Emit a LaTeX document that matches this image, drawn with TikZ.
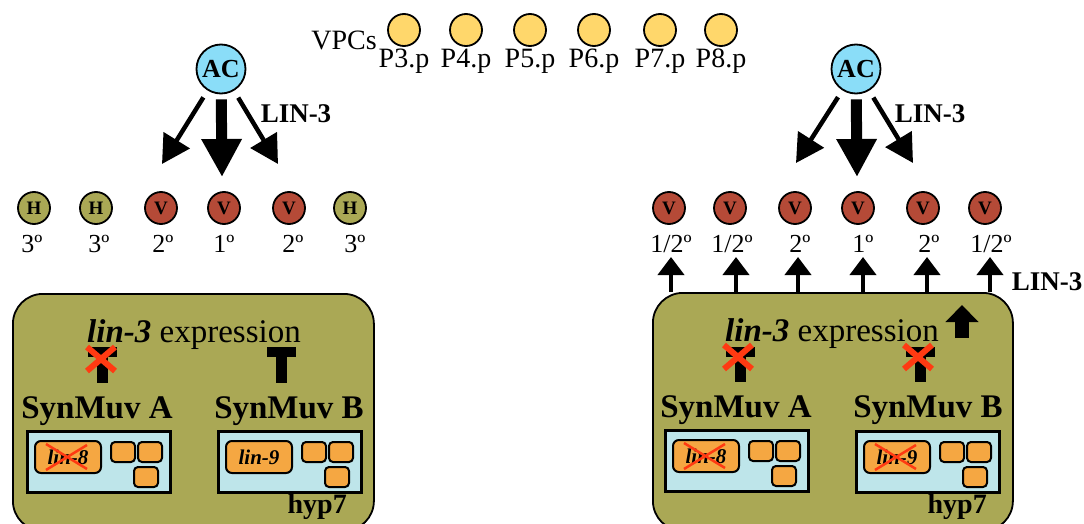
\documentclass[tikz,border=0pt]{standalone}
\usepackage{fontspec}
\setmainfont{Liberation Serif}
\usepackage{tikz}
\usetikzlibrary{positioning, arrows.meta, calc}
\definecolor{cOlive}  {HTML}{AAA855}
\definecolor{cIce}    {HTML}{BEE5EA}
\definecolor{cGene}   {HTML}{F5A742}
\definecolor{cVpc}    {HTML}{FFD76B}
\definecolor{cAnchor} {HTML}{8ADDF8}
\definecolor{cVulval} {HTML}{B54A37}
\definecolor{cKnock}  {HTML}{FF3A12}
\newcommand\setfs[1]{\fontsize{#1}{#1}\selectfont}

\begin{document}
\begin{tikzpicture}[x=1pt, y=-1pt,
    vpc/.style={circle, draw, line width=1.8pt, fill=cVpc, minimum size=32pt, inner sep=0pt},
    cell/.style={circle, draw, line width=1.8pt, minimum size=32pt, inner sep=0pt, font=\setfs{19}\bfseries},
    anchorcell/.style={circle, draw, line width=1.8pt, fill=cAnchor, minimum size=49pt, inner sep=0pt, font=\setfs{26}\bfseries},
    txt/.style={anchor=base, inner sep=0pt, font=\setfs{28}},
    fate/.style={anchor=base, inner sep=0pt, font=\setfs{26}},
    signal/.style={anchor=base, inner sep=0pt, font=\setfs{27}\bfseries},
    synmuv/.style={anchor=base, inner sep=0pt, font=\setfs{33}\bfseries},
    bigbox/.style={draw, line width=1.8pt, fill=cOlive, rounded corners=30pt, anchor=north west, inner sep=0pt},
    mutbox/.style={draw, line width=3pt, fill=cIce, anchor=north west, minimum width=143pt, minimum height=61pt, inner sep=0pt},
    gene/.style={draw, line width=2pt, fill=cGene, rounded corners=6pt, minimum width=66pt, minimum height=32pt, inner sep=0pt, font=\setfs{21}\bfseries\itshape},
    subunit/.style={draw, line width=2pt, fill=cGene, rounded corners=4pt},
    fatarr/.style={line width=11pt, -{Triangle[length=38pt, width=38pt]}},
    thinarr/.style={line width=4.5pt, -{Triangle[length=28pt, width=30pt]}},
    uparr/.style={line width=4pt, -{Triangle[length=18pt, width=26pt]}},
    inhib/.style={line width=11pt, -{Rectangle[length=10pt, width=29pt]}},
    knock/.style={draw=cKnock, line width=6pt},
    knockthin/.style={draw=cKnock, line width=2.5pt},
  ]
  \useasboundingbox (0,0) rectangle (1084,524);

  % precursor cells
  \node[txt, anchor=base east] (vpcs) at (377,50) {VPCs};
  \foreach \x [count=\i from 3] in {404,466,530,594,660,721}{
    \node[vpc] (P\i) at (\x,30) {};
    \node[txt] (lab\i) at (\x,68) {P\i.p};
  }

  % wild type
  \node[anchorcell] (acL) at (221,69) {AC};
  \foreach \x/\t/\c/\f/\lx [count=\i] in {34/H/cOlive/3º/32, 96/H/cOlive/3º/99, 161/V/cVulval/2º/163,
      224/V/cVulval/1º/224, 289/V/cVulval/2º/293, 350/H/cOlive/3º/355}{
    \node[cell, fill=\c] (wt\i) at (\x,208) {\t};
    \node[fate] (wtf\i) at (\lx,252) {\f};
  }
  \coordinate (tipLl) at (162,164);
  \coordinate (tipLc) at (222,177);
  \coordinate (tipLr) at (278,164);
  \draw[thinarr, shorten <=8pt] (acL) -- (tipLl);
  \draw[fatarr, shorten <=5pt] (acL) -- (tipLc);
  \draw[thinarr, shorten <=8pt] (acL) -- (tipLr);
  \node[signal] (lin3L) at (296,123) {LIN-3};

  \node[bigbox, minimum width=361pt, minimum height=237pt] (boxL) at (12,293) {};
  \node[txt, font=\setfs{33}] (exprL) at (194,342) {\textbf{\textit{lin-3}} expression};
  \node[synmuv] (synAL) at (97,418) {SynMuv A};
  \node[synmuv] (synBL) at (289,418) {SynMuv B};
  \node[anchor=base east, inner sep=0pt, font=\setfs{28}\bfseries] (hypL) at (347,513) {hyp7};
  \coordinate (tAL) at (102,347);
  \coordinate (tBL) at (281,347);
  \draw[inhib, shorten <=13pt] (tAL |- synAL.north) -- (tAL);
  \draw[inhib, shorten <=13pt] (tBL |- synBL.north) -- (tBL);

  % hyp-7 mutant
  \node[anchorcell] (acR) at (856,69) {AC};
  \foreach \x/\f/\lx [count=\i] in {669/{1/2º}/671, 730/{1/2º}/732, 795/2º/800,
      858/1º/863, 923/2º/929, 985/{1/2º}/991}{
    \node[cell, fill=cVulval] (mu\i) at (\x,208) {V};
    \node[fate] (muf\i) at (\lx,252) {\f};
  }
  \coordinate (tipRl) at (796,163);
  \coordinate (tipRc) at (857,177);
  \coordinate (tipRr) at (913,163);
  \draw[thinarr, shorten <=8pt] (acR) -- (tipRl);
  \draw[fatarr, shorten <=5pt] (acR) -- (tipRc);
  \draw[thinarr, shorten <=8pt] (acR) -- (tipRr);
  \node[signal] (lin3R) at (930,123) {LIN-3};

  \node[bigbox, minimum width=360pt, minimum height=238pt] (boxR) at (652,292) {};
  \foreach \x in {671,736,798,863,927,990}{
    \coordinate (up\x) at (\x,257);
    \draw[uparr] (up\x |- boxR.north) -- (up\x);
  }
  \node[signal] (lin3out) at (1047,290) {LIN-3};
  \node[txt, font=\setfs{33}] (exprR) at (832,341) {\textbf{\textit{lin-3}} expression};
  \coordinate (boostlo) at (962,338);
  \coordinate (boosthi) at (962,305);
  \draw[line width=14pt, -{Triangle[length=17pt, width=32pt]}] (boostlo) -- (boosthi);
  \node[synmuv] (synAR) at (736,417) {SynMuv A};
  \node[synmuv] (synBR) at (928,417) {SynMuv B};
  \node[anchor=base east, inner sep=0pt, font=\setfs{28}\bfseries] (hypR) at (987,513) {hyp7};
  \coordinate (tAR) at (740,347);
  \coordinate (tBR) at (920,347);
  \draw[inhib, shorten <=13pt] (tAR |- synAR.north) -- (tAR);
  \draw[inhib, shorten <=13pt] (tBR |- synBR.north) -- (tBR);

  % lost repression
  \foreach \x/\y in {101/359, 738/357, 918/357}
    \draw[knock] (\x-14,\y-12) -- (\x+14,\y+12) (\x-14,\y+12) -- (\x+14,\y-12);

  % SynMuv complexes
  \foreach \bx/\by/\g/\ko [count=\k] in {26/430/8/1, 217/430/9/0, 664/429/8/1, 855/430/9/1}{
    \node[mutbox] (mut\k) at (\bx,\by) {};
    \node[gene] (gene\k) at (\bx+42,\by+27) {lin-\g};
    \draw[subunit] (\bx+85,\by+12) rectangle (\bx+109,\by+32);
    \draw[subunit] (\bx+112,\by+12) rectangle (\bx+136,\by+32);
    \draw[subunit] (\bx+108,\by+37) rectangle (\bx+132,\by+57);
    \ifnum\ko=1
      \draw[knockthin] ([shift={(-22,-13)}]gene\k.center) -- ([shift={(19,12)}]gene\k.center)
                       ([shift={(-22,13)}]gene\k.center) -- ([shift={(19,-12)}]gene\k.center);
    \fi
  }
\end{tikzpicture}
\end{document}
